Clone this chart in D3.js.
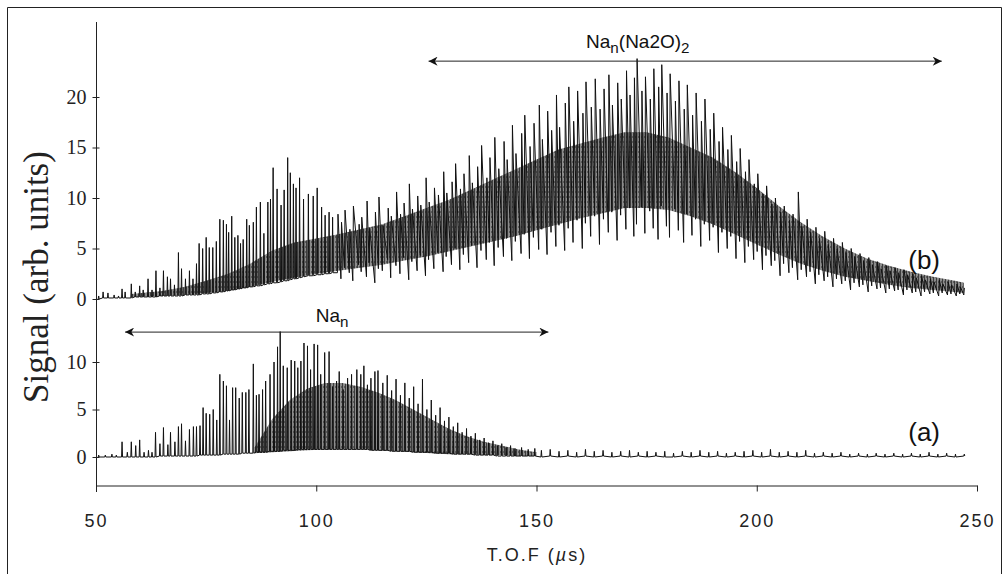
<!DOCTYPE html>
<html>
<head>
<meta charset="utf-8">
<script src="https://cdn.jsdelivr.net/npm/d3@7"></script>
<style>
  body { margin: 0; background: #fff; }
  svg { display: block; }
</style>
</head>
<body>
<div id="container"></div>
<script>
/* CONSTANTS AND GLOBALS */
const width = 1005,
  height = 574

/* DATA */
// x ticks (T.O.F, µs)
const xTicks = [50, 100, 150, 200, 250]
const yTicksB = [0, 5, 10, 15, 20]
const yTicksA = [0, 5, 10]

// spectrum (b): each spike = [t, dip, peak]
const spikesB = [
  [50.5,0,0.3],[51.5,0.1,0.7],[52.6,0.1,0.6],[54,0.1,0.4],[55,0.1,0.3],[55.8,0.1,1.0],[56.5,0.1,0.7],
  [57.9,0.1,1.5],[58.8,0.2,0.7],[59.8,0.2,1.3],[60.6,0.2,0.9],[61.7,0.2,2.0],[62.6,0.2,0.9],[63.5,0.2,2.8],
  [64.4,0.3,1.1],[65.2,0.3,2.8],[66.1,0.3,2.2],[66.8,0.3,2.0],[67.7,0.3,1.4],[68.6,0.3,4.6],[69.3,0.3,3.0],
  [70.2,0.4,2.0],[71.1,0.4,2.8],[71.9,0.4,2.0],[72.7,0.4,3.5],[73.3,0.4,5.5],[74.1,0.5,5.0],[74.9,0.5,6.1],
  [75.6,0.5,5.1],[76.4,0.6,5.1],[77.2,0.6,5.7],[78,0.7,7.9],[78.8,0.7,7.8],[79.5,0.8,7.4],[80,0.8,6.6],
  [80.7,0.9,8.2],[81.4,0.9,6.1],[82.1,1.0,6.3],[82.7,1.0,5.5],[83.3,1.1,5.9],[84.1,1.1,7.9],[84.7,1.2,7.3],
  [85.6,1.2,7.6],[86.3,1.3,9.1],[87.2,1.3,9.6],[88,1.4,6.5],[88.9,1.5,9.6],[89.5,1.5,9.9],[90.1,1.6,13.0],
  [91,1.6,10.9],[91.9,1.7,9.3],[92.6,1.8,10.8],[93.4,1.8,14.0],[94,1.9,12.5],[94.7,2.0,11.4],[95.3,2.0,11.0],
  [96.1,2.1,12.0],[97,2.2,9.9],[98.1,2.3,10.4],[99.2,2.3,10.2],[100.1,2.4,11.0],[101.1,2.4,9.1],[101.9,2.5,8.3],
  [102.8,2.5,8.6],[103.6,2.6,8.1],[104.8,2.6,8.4],
  [105.6,2.0,7.6],[106.4,3.1,8.8],[107.5,2.6,6.9],[108.3,1.8,9.2],[109.6,3.4,7.4],[110.2,2.7,8.1],[111.4,2.2,9.7],
  [112.0,3.6,7.0],[113.3,1.6,8.6],[114.1,3.0,10.1],[115.0,2.8,7.3],[116.2,3.9,9.0],[116.9,2.1,8.2],[118.1,3.3,10.6],
  [119.0,2.5,8.4],[119.8,4.1,9.5],[121.0,1.9,11.4],[121.7,3.7,8.9],[122.9,2.8,10.2],[123.6,4.3,9.3],[124.8,2.3,12.0],
  [125.5,3.9,9.6],[126.7,3.0,11.0],[127.6,4.6,10.3],[128.8,2.7,12.6],[129.5,4.2,10.5],[130.7,3.4,11.6],[131.5,5.0,13.4],
  [132.6,2.9,10.9],[133.4,4.4,12.4],[134.6,3.6,14.2],[135.3,5.3,11.5],[136.5,3.1,13.1],[137.4,4.8,15.2],[138.6,3.9,12.0],
  [139.3,5.6,14.0],[140.4,3.3,16.0],[141.3,5.1,12.9],[142.5,4.2,15.6],[143.2,6.0,13.8],[144.4,3.8,17.2],[145.2,5.7,14.4],
  [146.5,4.5,16.4],[147.2,6.4,18.2],[148.4,4.0,15.1],[149.3,6.1,17.4],[150.5,4.9,19.2],[151.2,6.9,15.8],[152.4,4.4,18.6],
  [153.3,6.6,16.7],[154.4,5.2,20.2],[155.1,7.3,17.0],[156.4,4.8,19.4],[157.2,7.0,21.0],[158.3,5.6,17.6],[159.2,7.8,20.6],
  [160.4,5.0,18.4],[161.1,7.5,21.5],[162.3,6.2,19.0],[163.2,8.2,21.8],[164.3,5.4,18.8],[165.2,7.9,20.8],[166.3,6.6,22.2],
  [167.1,8.6,19.2],[168.3,5.8,21.4],[169.1,8.3,19.8],[170.3,6.9,22.6],[171.1,9.0,20.2],[172.1,6.2,21.9],[172.7,7.4,23.8],
  [173.8,9.1,20.6],[174.6,6.5,22.0],[175.7,8.7,19.8],[176.5,7.0,22.8],[177.6,5.9,21.0],[178.3,9.2,23.2],[179.5,7.2,20.4],
  [180.2,6.1,22.3],[181.4,8.9,19.6],[182.2,6.8,21.6],[183.4,5.6,18.8],[184.1,8.4,21.2],[185.3,6.3,18.2],[186.1,7.9,20.4],
  [187.3,5.2,17.6],[188.1,7.4,19.8],[189.3,5.8,16.8],[190.1,7.1,18.4],[191.3,4.6,15.6],[192.1,6.6,17.0],[193.3,5.0,14.8],
  [194.1,6.2,16.2],[195.3,4.0,13.6],[196.1,5.7,14.9],[197.3,3.6,12.6],[198.1,5.2,13.8],[199.3,3.9,11.4],[200.1,4.7,12.4],
  [201.3,2.9,10.4],[202.1,4.3,11.2],[203.3,3.3,9.4],[204.1,3.8,10.0],[205.3,2.3,8.6],[206.1,3.5,9.2],[207.3,2.6,7.8],
  [208.1,3.1,8.4],[209.3,1.9,10.6],[210.1,2.9,7.2],[211.3,2.2,7.9],[212.1,2.7,6.6],[213.3,1.5,7.1],[214.1,2.4,6.0],
  [215.3,1.8,6.7],[216.1,2.2,5.4],[217.3,1.2,6.0],[218.1,2.0,5.0],[219.3,1.5,5.6],[220.1,1.8,4.6],[221.3,0.9,5.0],
  [222.1,1.6,4.2],[223.3,1.2,4.5],[224.1,1.4,3.8],[225.3,0.7,4.1],[226.1,1.3,3.4],[227.3,1.0,3.7],[228.1,1.1,3.0],
  [229.3,0.6,3.3],[230.1,1.0,2.8],[231.3,0.8,3.1],[232.1,0.9,2.6],[233.3,0.4,2.9],[234.1,0.9,2.4],[235.3,0.6,2.5],
  [236.1,0.7,2.1],[237.3,0.3,2.3],[238.1,0.7,1.9],[239.3,0.5,2.0],[240.1,0.6,1.7],[241.3,0.3,1.9],[242.1,0.6,1.5],
  [243.3,0.4,1.7],[244.1,0.5,1.4],[245.3,0.3,1.5],[246.1,0.5,1.2],[247.0,0.4,1.1]
]
// dense grey part of (b)
const bandTB = [58,65,70,75,80,85,90,95,100,105,110,115,120,125,130,135,140,145,150,155,160,165,170,175,180,185,190,195,200,205,210,215,220,225,230,235,240,245,247]
const bandLoB = [0.2,0.3,0.4,0.6,0.8,1.2,1.7,2.1,2.5,2.8,3.1,3.4,3.8,4.2,4.7,5.2,5.7,6.2,6.8,7.4,8.0,8.5,9.0,9.0,8.8,8.2,7.4,6.4,5.4,4.4,3.5,2.8,2.2,1.8,1.4,1.1,0.9,0.7,0.6]
const bandHiB = [0.5,0.8,1.2,1.8,2.5,3.5,4.8,5.6,6.0,6.4,6.9,7.4,8.2,9.0,9.8,10.8,11.8,12.8,13.8,14.8,15.4,16.0,16.5,16.5,16.0,15.0,14.0,12.6,11.0,9.2,7.6,6.2,5.0,4.0,3.3,2.7,2.2,1.8,1.6]
// where (b) turns from isolated peaks into a dense forest
const denseFromB = 104

// spectrum (a): each spike = [t, dip, peak]
const spikesA = [
  [50.5,0,0.2],[52,0,0.2],[53.5,0,0.3],[54.5,0,0.2],[55.8,0,1.6],[57,0,0.5],[57.9,0,1.6],[58.9,0,1.2],
  [59.8,0,1.8],[60.8,0,0.5],[61.8,0,0.7],[62.6,0,0.5],[63.4,0,2.6],[64.4,0.1,1.4],[65.2,0.1,3.1],[66.2,0.1,1.3],
  [66.8,0.1,2.6],[67.8,0.1,1.6],[68.6,0.1,3.2],[69.3,0.1,3.5],[70.2,0.1,1.7],[71.1,0.1,2.9],[72,0.1,3.2],
  [72.7,0.1,3.2],[73.5,0.2,3.3],[74.2,0.2,5.2],[74.9,0.2,4.6],[75.7,0.2,4.5],[76.5,0.2,5.0],[77.3,0.2,3.9],
  [78,0.2,8.7],[78.8,0.3,8.0],[79.5,0.3,7.5],[80.2,0.3,3.9],[80.9,0.3,7.3],[81.6,0.3,7.3],[82.4,0.3,6.2],
  [83.1,0.4,6.8],[83.9,0.4,6.8],[84.6,0.4,7.1],[85.6,0.4,9.8],[86.3,0.5,6.5],[86.9,0.5,6.6],[87.7,0.5,7.1],
  [88.4,0.5,8.0],[89.4,0.6,8.7],[90.3,0.6,10.0],[91.1,0.6,11.6],[91.7,0.6,13.2],[92.4,0.7,9.6],[93.3,0.7,9.4],
  [94.2,0.7,10.2],[95,0.7,10.1],[95.7,0.8,9.4],[96.4,0.8,10.1],[97.1,0.8,12.0],[97.9,0.8,11.7],[98.6,0.8,9.2],
  [99.4,0.8,11.9],[100.2,0.8,11.8],[100.9,0.8,8.7],[101.8,0.8,11.0],[102.8,0.8,11.1],[103.6,0.8,7.4],[104.5,0.8,8.0],
  [105.1,0.8,9.0],[106,0.8,7.1],[107,0.8,8.3],[107.9,0.8,8.7],[109.1,0.8,9.2],[110,0.8,8.7],[110.7,0.8,9.6],
  [111.5,0.8,7.6],[112.3,0.7,8.3],[113.2,0.7,9.0],[113.9,0.7,9.1],[115,0.7,7.8],[116,0.7,8.6],[117,0.6,7.0],
  [118,0.6,8.2],[119,0.6,6.5],[120,0.6,7.8],[121,0.6,6.2],[122,0.5,7.4],[123,0.5,5.6],[124,0.5,8.2],[125,0.5,5.0],
  [126,0.5,6.0],[127,0.4,4.4],[128,0.4,5.2],[129,0.4,3.8],[130,0.4,4.2],[131,0.3,3.2],[132,0.3,3.6],[133,0.3,2.6],
  [134,0.3,3.0],[135,0.3,2.2],[136,0.2,2.5],[137,0.2,1.8],[138,0.2,2.0],[139,0.2,1.5],[140,0.2,1.7],[141,0.1,1.2],
  [142,0.1,1.4],[143,0.1,1.0],[144,0.1,1.2],[145,0.1,0.9],[146.5,0.1,1.0],[148,0.1,0.8],[149.5,0.1,0.9],[151,0,0.7],
  [153,0.1,0.8],[155,0,0.6],[157,0.1,0.7],[159,0,0.5],[161,0.1,0.8],[163,0,0.6],[165,0.1,0.7],[167,0,0.5],
  [169,0.1,0.6],[171,0,0.7],[173,0.1,0.5],[175,0,0.6],[177,0.1,0.5],[179,0,0.6],[181,0,0.4],[183,0.1,0.6],
  [185,0,0.5],[187,0.1,0.7],[189,0,0.5],[191,0.1,0.6],[193,0,0.4],[195,0.1,0.5],[197,0,0.6],[199,0.1,0.7],
  [201,0,0.5],[203,0.1,0.8],[205,0,0.5],[207,0.1,0.6],[209,0,0.5],[211,0.1,0.7],[213,0,0.4],[215,0.1,0.5],
  [217,0,0.4],[219,0.1,0.5],[221,0,0.3],[223,0.1,0.4],[225,0,0.3],[227,0.1,0.4],[229,0,0.3],[231,0.1,0.4],
  [233,0,0.3],[235,0.1,0.4],[237,0,0.3],[239,0.1,0.5],[241,0,0.3],[243,0.1,0.4],[245,0,0.3],[247,0.1,0.3]
]
const bandTA = [86,90,94,98,102,106,110,114,118,122,126,130,134,138,142,146,150]
const bandLoA = [0.4,0.5,0.6,0.7,0.8,0.8,0.8,0.7,0.6,0.5,0.4,0.3,0.3,0.2,0.2,0.1,0.1]
const bandHiA = [1.0,4.0,6.0,7.2,7.8,7.8,7.4,6.8,6.0,5.0,4.0,3.0,2.2,1.6,1.2,0.8,0.5]
const denseFromA = 999 // (a) stays a row of separate peaks

// range arrows: [t start, t end, level]
const arrowB = [125.5, 242, 23.6]
const arrowA = [56.6, 152.7, 13.2]

/* SCALES */
const xScale = d3.scaleLinear().domain([50, 250]).range([96, 977])
const yB = d3.scaleLinear().domain([0, 20]).range([299, 97])
const yA = d3.scaleLinear().domain([0, 10]).range([457, 362])

/* SVG */
const svg = d3.select("#container").append("svg")
  .attr("width", width)
  .attr("height", height)

const defs = svg.append("defs")

// scanned grey texture for the dense part of the traces
const grain = defs.append("pattern")
  .attr("id", "grain")
  .attr("width", 3).attr("height", 5)
  .attr("patternUnits", "userSpaceOnUse")
grain.append("rect").attr("width", 3).attr("height", 5).attr("fill", "#8c8c8c")
grain.append("rect").attr("width", 1).attr("height", 5).attr("fill", "#3c3c3c")
grain.append("rect").attr("x", 2).attr("y", 1).attr("width", 1).attr("height", 2).attr("fill", "#5a5a5a")

// frame of the scanned figure
svg.append("path")
  .attr("d", "M7.5,580 V7.5 H1001.5 V580")
  .attr("fill", "none")
  .attr("stroke", "#222")
  .attr("stroke-width", 1)

// grey dense bands
function drawBand(ts, lo, hi, y) {
  const rows = ts.map((t, i) => ({ t: t, lo: lo[i], hi: hi[i] }))
  const area = d3.area()
    .x(d => xScale(d.t))
    .y0(d => y(d.lo))
    .y1(d => y(d.hi))
  svg.append("path")
    .attr("d", area(rows))
    .attr("fill", "url(#grain)")
}
drawBand(bandTB, bandLoB, bandHiB, yB)
drawBand(bandTA, bandLoA, bandHiA, yA)

// spike traces: narrow peaks on a baseline, then a zigzag where they crowd together
function drawSpikes(spikes, y, denseFrom) {
  const path = d3.path()
  spikes.forEach((s, i) => {
    const x = xScale(s[0])
    if (i === 0) path.moveTo(x, y(s[1]))
    else path.lineTo(x, y(s[1]))
    if (s[0] >= denseFrom) {
      path.lineTo(x + 0.6, y(s[2]))
    } else {
      path.lineTo(x + 0.5, y(s[2]))
      path.lineTo(x + 1, y(s[1]))
    }
  })
  svg.append("path")
    .attr("d", path.toString())
    .attr("fill", "none")
    .attr("stroke", "#111")
    .attr("stroke-width", 1)
    .attr("stroke-linejoin", "bevel")
}
drawSpikes(spikesB, yB, denseFromB)
drawSpikes(spikesA, yA, denseFromA)

/* AXES */
// y axis line spans both panels
svg.append("line")
  .attr("x1", 96.5).attr("x2", 96.5)
  .attr("y1", 22).attr("y2", 492)
  .attr("stroke", "#222")

function yAxis(scale, ticks) {
  const g = svg.append("g")
    .attr("transform", "translate(96.5,0)")
    .call(d3.axisLeft(scale).tickValues(ticks).tickSize(4).tickSizeOuter(0))
  g.select(".domain").remove()
  g.selectAll(".tick line").attr("x1", 3).attr("stroke", "#222")
  g.selectAll(".tick text")
    .attr("x", -10)
    .attr("font-family", "'Liberation Serif', 'Times New Roman', serif")
    .attr("font-size", 20)
    .attr("fill", "#222")
}
yAxis(yB, yTicksB)
yAxis(yA, yTicksA)

const xAxis = d3.axisBottom(xScale).tickValues(xTicks).tickSize(6).tickSizeOuter(0)
const gx = svg.append("g")
  .attr("transform", "translate(0,485.5)")
  .call(xAxis)
gx.select(".domain").attr("stroke", "#222")
gx.selectAll(".tick line").attr("stroke", "#222")
gx.selectAll(".tick text")
  .attr("y", 29)
  .attr("font-family", "'Liberation Sans', Arial, sans-serif")
  .attr("font-size", 18)
  .attr("letter-spacing", 2)
  .attr("fill", "#222")

// axis titles
svg.append("text")
  .attr("transform", "translate(48,277) rotate(-90)")
  .attr("text-anchor", "middle")
  .attr("font-family", "'Liberation Serif', 'Times New Roman', serif")
  .attr("font-size", 35)
  .attr("fill", "#222")
  .text("Signal (arb. units)")

const xt = svg.append("text")
  .attr("x", 537).attr("y", 561)
  .attr("text-anchor", "middle")
  .attr("font-family", "'Liberation Sans', Arial, sans-serif")
  .attr("font-size", 18)
  .attr("letter-spacing", 2)
  .attr("fill", "#222")
xt.append("tspan").text("T.O.F (")
xt.append("tspan").attr("font-style", "italic").text("\u00b5")
xt.append("tspan").text("s)")

/* ANNOTATIONS */
defs.append("marker")
  .attr("id", "arrowhead")
  .attr("viewBox", "0 0 10 10")
  .attr("refX", 10).attr("refY", 5)
  .attr("markerWidth", 11).attr("markerHeight", 9)
  .attr("markerUnits", "userSpaceOnUse")
  .attr("orient", "auto-start-reverse")
  .append("path")
  .attr("d", "M0,0 L10,5 L0,10 L3,5 Z")
  .attr("fill", "#111")

function rangeArrow(a, y) {
  svg.append("line")
    .attr("x1", xScale(a[0])).attr("x2", xScale(a[1]))
    .attr("y1", y(a[2]) + 0.5).attr("y2", y(a[2]) + 0.5)
    .attr("stroke", "#222")
    .attr("stroke-width", 1)
    .attr("marker-start", "url(#arrowhead)")
    .attr("marker-end", "url(#arrowhead)")
}
rangeArrow(arrowB, yB)
rangeArrow(arrowA, yA)

function label(x, y, parts, size) {
  const t = svg.append("text")
    .attr("x", x).attr("y", y)
    .attr("text-anchor", "middle")
    .attr("font-family", "'Liberation Sans', Arial, sans-serif")
    .attr("font-size", size)
    .attr("fill", "#111")
  parts.forEach(p => {
    const s = t.append("tspan").text(p[0])
    if (p[1] === "sub") s.attr("baseline-shift", "-30%").attr("font-size", size * 0.8)
  })
}
label(xScale(173), 48, [["Na"], ["n", "sub"], ["(Na2O)"], ["2", "sub"]], 19)
label(xScale(103.6), 322, [["Na"], ["n", "sub"]], 19)
label(xScale(238), 269, [["(b)"]], 26)
label(xScale(238), 441, [["(a)"]], 26)
</script>
</body>
</html>
